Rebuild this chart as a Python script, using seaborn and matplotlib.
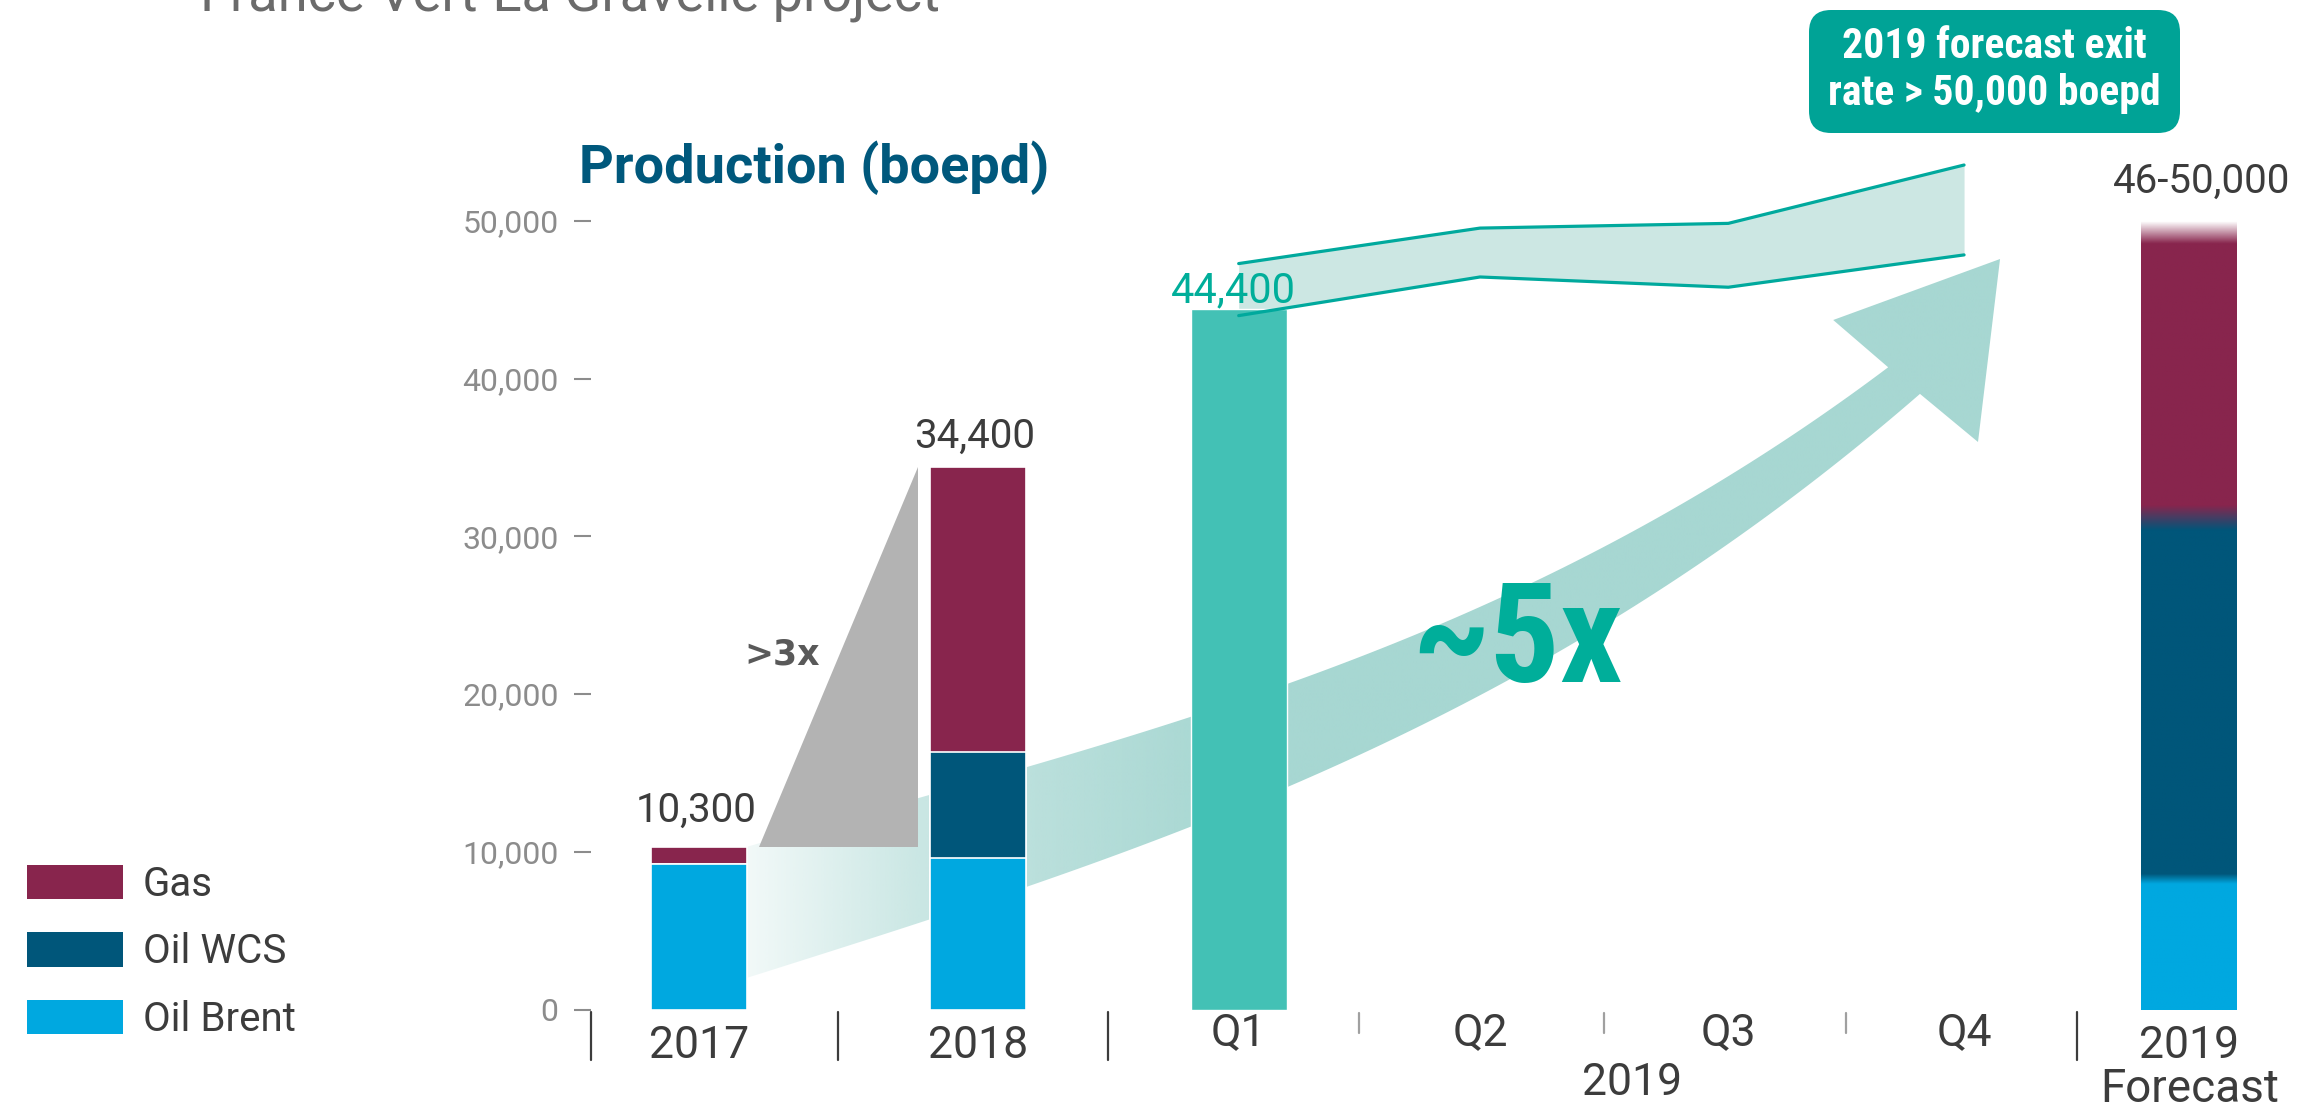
import os
import numpy as np
import pandas as pd
import matplotlib
matplotlib.use("Agg")
import matplotlib.pyplot as plt
import seaborn as sns
from matplotlib import font_manager
from matplotlib.font_manager import FontProperties
from matplotlib.patches import Polygon, Patch, FancyBboxPatch, PathPatch
from matplotlib.colors import to_rgb
from matplotlib.textpath import TextPath
from matplotlib.transforms import IdentityTransform, Affine2D, ScaledTranslation

# ------------------------------
# Data
# ------------------------------

years = ['2017', '2018']
oil_brent = [9200, 9600]
oil_wcs = [0, 6700]
gas = [1100, 18100]
year_totals = ['10,300', '34,400']

q1_total = 44400
q1_text = '44,400'

quarters = ['Q1', 'Q2', 'Q3', 'Q4']
range_low = [44000, 46450, 45800, 47850]
range_high = [47300, 49550, 49850, 53550]

fc_brent = 8300
fc_wcs = 22900
fc_gas = 17400
fc_top = 50000
fc_text = '46-50,000'

layers = ['Gas', 'Oil WCS', 'Oil Brent']
y_ticks = [0, 10000, 20000, 30000, 40000, 50000]

# ------------------------------
# Layout / style
# ------------------------------

pos = {'2017': 0.0, '2018': 1.0, 'Q1': 1.935, 'Q2': 2.80, 'Q3': 3.69,
       'Q4': 4.535, 'Forecast': 5.343}
bar_w = 0.344
x_left, x_right = -0.388, 5.732
y_top = 64014

GAS = '#88254D'
WCS = '#00567A'
BRENT = '#00A8E0'
Q1C = '#43C1B5'
ARROW = '#A7D7D2'
RANGE_FILL = '#CCE7E3'
RANGE_LINE = '#00A99D'
TEAL_TXT = '#00AE9A'
TRI = '#B3B3B3'
DARK = '#3C3C3C'
TICK = '#8C8C8C'
TITLE_BLUE = '#00587C'
CALLOUT = '#00A396'

sns.set_style('white')
plt.rcParams['font.family'] = ['Roboto', 'DejaVu Sans']


def find_condensed_bold():
    prefs = ['Liberation Sans Narrow', 'Roboto Condensed', 'Open Sans Condensed',
             'DejaVu Sans Condensed', 'DejaVu Sans', 'Noto Sans', 'Open Sans']
    found = []
    for f in font_manager.fontManager.ttflist:
        base = os.path.basename(f.fname)
        cond = ('Narrow' in f.name or 'Condensed' in f.name or 'Narrow' in base
                or 'Condensed' in base
                or str(f.stretch) in ('condensed', 'semi-condensed', 'extra-condensed'))
        w = f.weight if isinstance(f.weight, (int, float)) else (700 if 'bold' in str(f.weight) else 400)
        if cond and w >= 600 and f.style == 'normal':
            rank = prefs.index(f.name) if f.name in prefs else len(prefs)
            found.append((rank, f.fname))
    if not found:
        return None
    return sorted(found)[0][1]


cond_file = find_condensed_bold()

fig = plt.figure(figsize=(22.98, 11.07), dpi=100)
ax = fig.add_axes([590.6 / 2298, 1 - 1009.5 / 1107, 1 - 590.6 / 2298, 1009.5 / 1107])

# ------------------------------
# Growth arrow (~5x), fading in from the left
# ------------------------------

up_x = [0.18, 1.173, 2.109, 2.80, 3.671, 4.263]
up_y = [10368, 15314, 20704, 25523, 33576, 40742]
lo_x = [0.18, 1.173, 2.109, 2.80, 3.757, 4.377]
lo_y = [2061, 7704, 14236, 19816, 30406, 39030]
head = [(4.066, 43722), (4.664, 47590), (4.585, 35986)]

up_fit = np.polyfit(up_x, up_y, 3)
lo_fit = np.polyfit(lo_x, lo_y, 3)
xu = np.linspace(0.05, up_x[-1], 120)
xl = np.linspace(0.05, lo_x[-1], 120)
verts = list(zip(xu, np.polyval(up_fit, xu))) + head + list(zip(xl[::-1], np.polyval(lo_fit, xl[::-1])))

arrow_poly = Polygon(verts, closed=True, transform=ax.transData, fc='none', ec='none')
ax.add_patch(arrow_poly)

gx = np.linspace(0, 4.8, 600)
img = np.zeros((2, len(gx), 4))
img[..., :3] = to_rgb(ARROW)
img[..., 3] = np.interp(gx, [0.17, 0.78, 1.2, 1.9], [0.15, 0.6, 0.78, 1.0])
im = ax.imshow(img, extent=[0, 4.8, 0, 50000], origin='lower', aspect='auto',
               interpolation='bilinear', zorder=0.5)
im.set_clip_path(arrow_poly)

# ------------------------------
# 2019 quarterly range band
# ------------------------------

q_x = [pos[q] for q in quarters]
ax.fill_between(q_x, range_low, range_high, color=RANGE_FILL, lw=0, zorder=1)
sns.lineplot(x=q_x, y=range_high, color=RANGE_LINE, lw=2.3, zorder=3, ax=ax)
sns.lineplot(x=q_x, y=range_low, color=RANGE_LINE, lw=2.3, zorder=3, ax=ax)

# ------------------------------
# Stacked bars 2017 / 2018
# ------------------------------

brent_a = np.array(oil_brent)
wcs_a = np.array(oil_wcs)
gas_a = np.array(gas)
tops = {'Gas': brent_a + wcs_a + gas_a, 'Oil WCS': brent_a + wcs_a, 'Oil Brent': brent_a}

stack = pd.DataFrame({
    'x': [pos[y] for y in years] * 3,
    'layer': [l for l in layers for _ in years],
    'top': np.concatenate([tops[l] for l in layers]),
})
sns.barplot(data=stack, x='x', y='top', hue='layer', hue_order=layers,
            palette=[GAS, WCS, BRENT], native_scale=True, dodge=False,
            width=bar_w, errorbar=None, saturation=1, legend=False,
            edgecolor='white', linewidth=1.2, zorder=2, ax=ax)

sns.barplot(x=[pos['Q1']], y=[q1_total], native_scale=True, color=Q1C,
            saturation=1, width=bar_w, errorbar=None, zorder=2, ax=ax)

# >3x wedge between 2017 and 2018
tot = tops['Gas']
gap = 0.044
x0 = pos['2017'] + bar_w / 2 + gap
x1 = pos['2018'] - bar_w / 2 - gap
ax.fill([x0, x1, x1], [tot[0], tot[0], tot[1]], color=TRI, lw=0, zorder=1.5)
ax.text((pos['2017'] + pos['2018']) / 2 - 0.2, 21850, '>3x', ha='center', va='baseline',
        fontsize=25, fontweight='bold', family=['DejaVu Sans'], color='#595959', zorder=4)

# ------------------------------
# 2019 forecast bar (blended stack)
# ------------------------------

ys = np.linspace(0, fc_top, 1201)
b1 = fc_brent
b2 = fc_brent + fc_wcs
b3 = b2 + fc_gas


def ramp(y, c, half):
    return np.clip((y - (c - half)) / (2 * half), 0, 1)[:, None]


s1 = ramp(ys, b1, 320)
s2 = ramp(ys, b2, 800)
col = np.array(to_rgb(BRENT)) * (1 - s1) + np.array(to_rgb(WCS)) * s1
col = col * (1 - s2) + np.array(to_rgb(GAS)) * s2
alpha = 1 - np.clip((ys - b3) / (fc_top - b3), 0, 1)
fimg = np.dstack([col[:, 0], col[:, 1], col[:, 2], alpha]).reshape(len(ys), 1, 4)
xf = pos['Forecast']
ax.imshow(fimg, extent=[xf - bar_w / 2, xf + bar_w / 2, 0, fc_top], origin='lower',
          aspect='auto', interpolation='bilinear', zorder=2)

# ------------------------------
# Value labels
# ------------------------------

for y, t, v, off in zip(years, year_totals, tot, [18, 14]):
    ax.annotate(t, xy=(pos[y], v), xytext=(-2, off), textcoords='offset points',
                ha='center', va='baseline', fontsize=29, color=DARK, zorder=4)
ax.annotate(q1_text, xy=(pos['Q1'], q1_total), xytext=(-4, 5), textcoords='offset points',
            ha='center', va='baseline', fontsize=30, color=TEAL_TXT, zorder=4)
ax.annotate(fc_text, xy=(xf, fc_top), xytext=(9, 20), textcoords='offset points',
            ha='center', va='baseline', fontsize=29, color=DARK, zorder=4)

# big ~5x, condensed bold
if cond_file:
    ax.text(2.933, 20786, '~5x', ha='center', va='baseline', color=TEAL_TXT, zorder=4,
            fontproperties=FontProperties(fname=cond_file, size=100))
else:
    tp = TextPath((0, 0), '~5x', size=100 * 100 / 72, prop=FontProperties(family='Roboto', weight='bold'))
    bb = tp.get_extents()
    tr = (Affine2D().translate(-(bb.x0 + bb.x1) / 2, 0).scale(0.85, 1)
          + ScaledTranslation(2.933, 20786, ax.transData))
    ax.add_patch(PathPatch(tp, transform=tr, fc=TEAL_TXT, ec='none', zorder=4))

# ------------------------------
# Axes
# ------------------------------

ax.set_xlim(x_left, x_right)
ax.set_ylim(0, y_top)
ax.set_xlabel('')
ax.set_ylabel('')
ax.set_xticks([])
ax.set_yticks(y_ticks)
ax.set_yticklabels([f'{v:,}' for v in y_ticks])
ax.tick_params(axis='y', length=12.5, width=1.5, color=TICK, labelcolor=TICK,
               labelsize=23, pad=10.5, direction='out', left=True)
for s in ax.spines.values():
    s.set_visible(False)

# category labels
for y in years:
    ax.text(pos[y], -3075, y, ha='center', va='baseline', fontsize=32, color=DARK, clip_on=False)
for q in quarters:
    ax.text(pos[q], -2250, q, ha='center', va='baseline', fontsize=32, color=DARK, clip_on=False)
ax.text(3.345, -5420, '2019', ha='center', va='baseline', fontsize=32, color=DARK, clip_on=False)
ax.text(xf, -3075, '2019', ha='center', va='baseline', fontsize=32, color=DARK, clip_on=False)
ax.text(xf, -5865, 'Forecast', ha='center', va='baseline', fontsize=33, color=DARK, clip_on=False)

# group separators
order = years + quarters + ['Forecast']
px = [pos[k] for k in order]
mids = [(a + b) / 2 for a, b in zip(px[:-1], px[1:])]
long_seps = [x_left, mids[0], mids[1], mids[-1]]
short_seps = mids[2:-1]
for m in long_seps:
    ax.plot([m, m], [-150, -3200], color=DARK, lw=1.6, clip_on=False)
for m in short_seps:
    ax.plot([m, m], [-200, -1500], color='#A0A0A0', lw=1.6, clip_on=False)

# ------------------------------
# Figure texts, legend, callout
# ------------------------------

fig.text(200 / 2298, 1 - 11 / 1107, 'France Vert-La Gravelle project', fontsize=39,
         color='#6B6B6B', va='baseline', ha='left')
fig.text(579 / 2298, 1 - 183 / 1107, 'Production (boepd)', fontsize=39, fontweight='bold',
         color=TITLE_BLUE, va='baseline', ha='left')

handles = [Patch(fc=c, ec='none', label=l) for c, l in zip([GAS, WCS, BRENT], layers)]
fig.legend(handles=handles, loc='upper left', bbox_to_anchor=(27 / 2298, 1 - 865 / 1107),
           frameon=False, fontsize=29, handlelength=2.38, handleheight=0.94,
           handletextpad=0.5, labelspacing=0.70, borderpad=0, borderaxespad=0,
           labelcolor=DARK)

box = FancyBboxPatch((1809, 974), 371, 123, boxstyle='round,pad=0,rounding_size=22',
                     fc=CALLOUT, ec='none', transform=IdentityTransform())
fig.add_artist(box)
if cond_file:
    call_kw = dict(fontproperties=FontProperties(fname=cond_file, size=30))
else:
    call_kw = dict(fontsize=28, fontweight='bold')
fig.text(1994.5 / 2298, 1 - 70 / 1107, '2019 forecast exit\nrate > 50,000 boepd',
         ha='center', va='center', color='white', linespacing=1.2, **call_kw)

plt.savefig('out.png', dpi=100)
